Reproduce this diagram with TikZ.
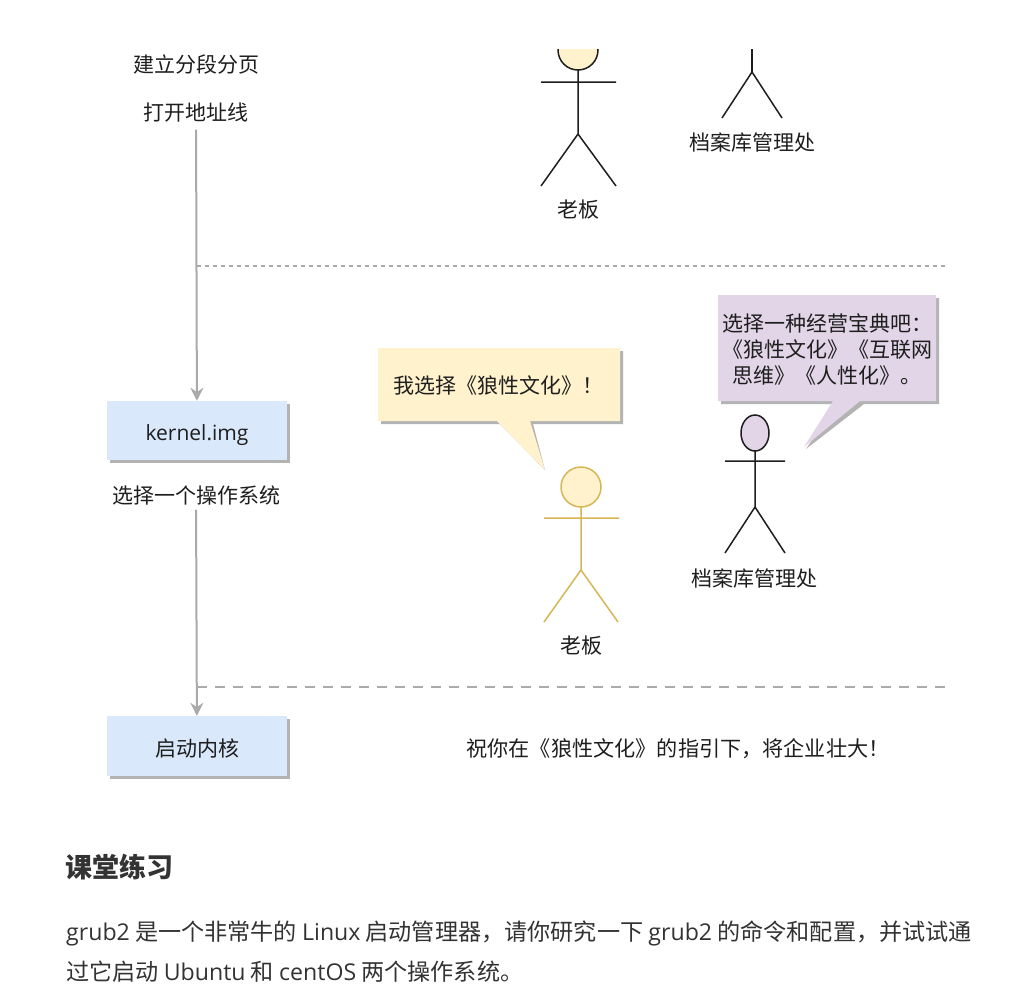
\documentclass[tikz,border=0pt]{standalone}
\usepackage{fontspec}
\setmainfont{Noto Sans CJK SC}
\newfontfamily\latinfont{Open Sans}
\usetikzlibrary{arrows.meta}
\definecolor{bookblue}{RGB}{218,232,252}
\definecolor{bookgold}{RGB}{255,242,204}
\definecolor{bookgoldline}{RGB}{214,182,86}
\definecolor{bookpurple}{RGB}{225,213,231}
\definecolor{bookshadow}{RGB}{179,179,179}
\definecolor{bookflow}{RGB}{170,170,170}
\definecolor{bookink}{RGB}{30,30,30}
\definecolor{booktext}{RGB}{51,51,51}
\tikzset{
  lbl/.style={text=bookink,font=\fontsize{21}{26}\selectfont,inner sep=0pt,align=center,yshift=-0.8pt},
  kbox/.style={fill=bookblue,minimum width=180pt,minimum height=59pt,inner sep=0pt,text=bookink,font=\fontsize{21}{26}\selectfont},
  flow/.style={draw=bookflow,line width=2pt,-{Stealth[length=13pt,width=13pt]}},
  stick/.style={draw=bookink,line width=1.5pt},
  para/.style={text=booktext,font=\fontsize{23.13}{26}\selectfont,inner sep=0pt,anchor=west},
}
\begin{document}
\begin{tikzpicture}[x=1pt,y=-1pt]
  \useasboundingbox[fill=white] (0,0) rectangle (1018,996);

  \begin{scope}
    \clip (500,49) rectangle (800,200);
    \draw[stick,fill=bookgold] (578,50) circle[radius=20];
    \draw[stick] (752,49)--(752,72);
  \end{scope}
  \draw[stick] (578,70)--(578,134) (541,82)--(616,82) (541,186)--(578,134)--(616,186);
  \draw[stick] (722,118)--(752,72)--(782,118);
  \node[lbl] (bossa) at (578,209) {老板};
  \node[lbl] (archa) at (752,142) {档案库管理处};

  \node[lbl] (paging) at (196,64) {建立分段分页};
  \node[lbl] (addrline) at (196,112) {打开地址线};
  \fill[bookshadow] (110,404) rectangle (290,463);
  \node[kbox] (kernel) at (197,430.5) {\raisebox{-10pt}[0pt][0pt]{\latinfont kernel.img}};
  \node[lbl] (pickos) at (196,495) {选择一个操作系统};
  \fill[bookshadow] (110,719) rectangle (290,779);
  \node[kbox,minimum height=60pt] (startk) at (197,746) {\raisebox{-10pt}[0pt][0pt]{启动内核}};
  \draw[flow,shorten <=7pt] (addrline) -- (kernel);
  \draw[flow,shorten <=4pt] (pickos) -- (startk);

  \coordinate (dashaL) at (197,266);
  \coordinate (dashaR) at (947,266);
  \coordinate (dashbL) at (197,687);
  \coordinate (dashbR) at (947,687);
  \draw[bookflow,line width=1.3pt,dash pattern=on 4pt off 4pt] (dashaL) -- (dashaR);
  \draw[bookflow,line width=2.6pt,dash pattern=on 10pt off 8pt] (dashbL) -- (dashbR);

  \fill[bookshadow] (381,351)--(623,351)--(623,424)--(533,424)--(545,470)--(500,424)--(381,424)--cycle;
  \fill[bookgold] (378,348)--(620,348)--(620,421)--(530,421)--(545,470)--(497,421)--(378,421)--cycle;
  \node[lbl] (bossay) at (498,385) {我选择《狼性文化》！};

  \fill[bookshadow] (721,298)--(939,298)--(939,404)--(864,404)--(806,449)--(836,404)--(721,404)--cycle;
  \fill[bookpurple] (718,295)--(936,295)--(936,401)--(860,401)--(804,447)--(833,401)--(718,401)--cycle;
  \node[lbl] (archsay) at (827,349) {选择一种经营宝典吧：\\《狼性文化》《互联网\\思维》《人性化》。};

  \draw[bookgoldline,line width=1.5pt,fill=bookgold] (581,487) circle[radius=20];
  \draw[bookgoldline,line width=1.5pt] (581,507)--(581,570) (544,518)--(619,518) (544,622)--(581,570)--(618,622);
  \node[lbl] (bossb) at (581,645) {老板};

  \draw[stick,fill=bookpurple] (755,433) ellipse[x radius=14,y radius=18];
  \draw[stick] (755,451)--(755,507) (725,461)--(785,461) (725,553)--(755,507)--(785,553);
  \node[lbl] (archb) at (754,578) {档案库管理处};

  \node[lbl,font=\fontsize{21.15}{26}\selectfont] (wish) at (678,748) {祝你在《狼性文化》的指引下，将企业壮大！};

  \node[text=booktext,font=\fontsize{27}{30}\selectfont\bfseries,inner sep=0pt,anchor=west] (drill) at (65,867) {课堂练习};
  \node[para] (parab) at (66,933) {{\latinfont grub2} 是一个非常牛的 {\latinfont Linux} 启动管理器，请你研究一下 {\latinfont grub2} 的命令和配置，并试试通};
  \node[para] (parac) at (66,972) {过它启动 {\latinfont Ubuntu} 和 {\latinfont centOS} 两个操作系统。};
\end{tikzpicture}
\end{document}
